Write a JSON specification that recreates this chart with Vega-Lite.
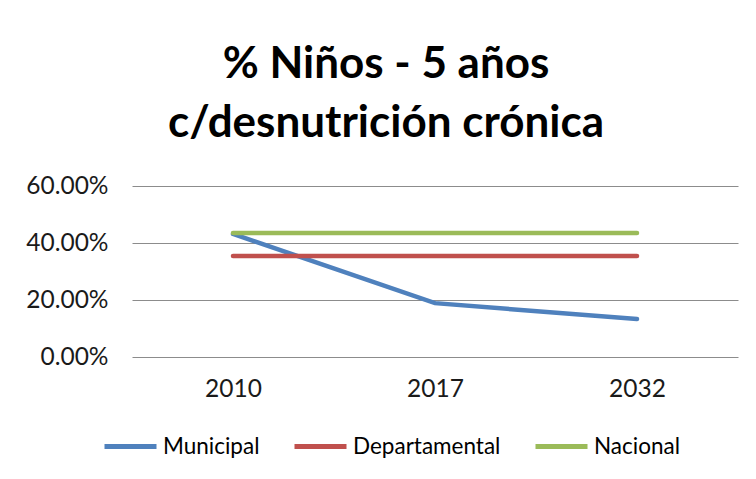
{
  "$schema": "https://vega.github.io/schema/vega-lite/v6.json",
  "width": 606,
  "height": 171,
  "autosize": {"type": "none"},
  "padding": {"left": 132, "top": 186, "right": 18, "bottom": 122},
  "background": "white",
  "title": {
    "text": ["% Niños - 5 años", "c/desnutrición crónica"],
    "font": "Lato",
    "fontSize": 44,
    "fontWeight": "bold",
    "color": "#000000",
    "lineHeight": 59,
    "anchor": "middle",
    "dx": -49,
    "offset": 27
  },
  "data": {
    "values": [
      {"year": "2010", "serie": "Municipal", "value": 0.432},
      {"year": "2017", "serie": "Municipal", "value": 0.189},
      {"year": "2032", "serie": "Municipal", "value": 0.133},
      {"year": "2010", "serie": "Departamental", "value": 0.354},
      {"year": "2017", "serie": "Departamental", "value": 0.354},
      {"year": "2032", "serie": "Departamental", "value": 0.354},
      {"year": "2010", "serie": "Nacional", "value": 0.435},
      {"year": "2017", "serie": "Nacional", "value": 0.435},
      {"year": "2032", "serie": "Nacional", "value": 0.435}
    ]
  },
  "mark": {"type": "line", "strokeWidth": 4.5, "strokeCap": "round"},
  "encoding": {
    "x": {
      "field": "year",
      "type": "ordinal",
      "scale": {"type": "point", "padding": 0.5},
      "axis": {
        "title": null,
        "labelAngle": 0,
        "ticks": false,
        "domain": false,
        "grid": false,
        "labelFont": "Lato",
        "labelFontSize": 24.5,
        "labelColor": "#1a1a1a",
        "labelPadding": 20
      }
    },
    "y": {
      "field": "value",
      "type": "quantitative",
      "scale": {"domain": [0, 0.6], "nice": false},
      "axis": {
        "title": null,
        "values": [0, 0.2, 0.4, 0.6],
        "format": ".2%",
        "ticks": false,
        "domain": false,
        "gridColor": "#8c8c8c",
        "gridWidth": 1,
        "labelFont": "Lato",
        "labelFontSize": 24.5,
        "labelColor": "#1a1a1a",
        "labelPadding": 24
      }
    },
    "color": {
      "field": "serie",
      "type": "nominal",
      "scale": {
        "domain": ["Municipal", "Departamental", "Nacional"],
        "range": ["#4F81BD", "#C0504D", "#9BBB59"]
      },
      "legend": {
        "title": null,
        "orient": "none",
        "direction": "horizontal",
        "legendX": -30,
        "legendY": 232,
        "symbolType": "stroke",
        "symbolSize": 2704,
        "symbolStrokeWidth": 5,
        "labelFont": "Lato",
        "labelFontSize": 22.5,
        "labelColor": "#000000",
        "labelOffset": 4,
        "labelLimit": 300,
        "columnPadding": 24
      }
    }
  },
  "config": {"view": {"stroke": null}}
}
